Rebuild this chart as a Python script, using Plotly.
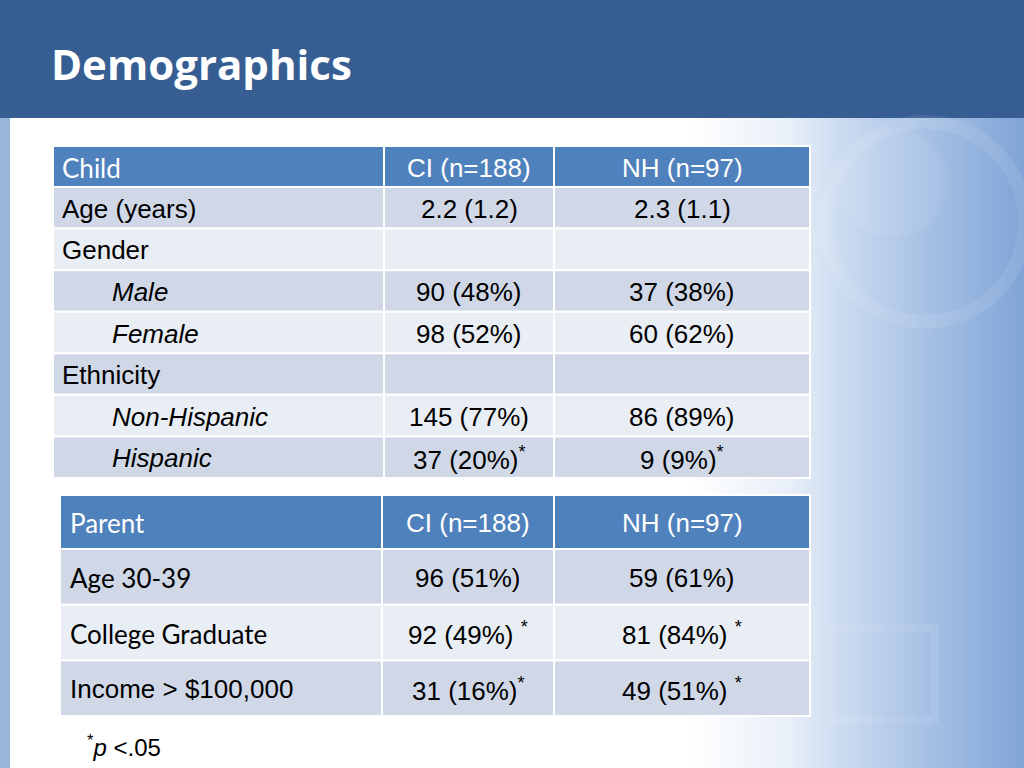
import plotly.graph_objects as go

W, H = 1024, 768

title_text = "Demographics"

child_header = ["Child", "CI (n=188)", "NH (n=97)"]
child_labels = ["Age (years)", "Gender", "Male", "Female", "Ethnicity", "Non-Hispanic", "Hispanic"]
child_italic = [False, False, True, True, False, True, True]
child_ci = ["2.2 (1.2)", "", "90 (48%)", "98 (52%)", "", "145 (77%)", "37 (20%)<sup>*</sup>"]
child_nh = ["2.3 (1.1)", "", "37 (38%)", "60 (62%)", "", "86 (89%)", "9 (9%)<sup>*</sup>"]

parent_header = ["Parent", "CI (n=188)", "NH (n=97)"]
parent_labels = ["Age 30-39", "College Graduate", "Income > $100,000"]
parent_ci = ["96 (51%)", "92 (49%) <sup>*</sup>", "31 (16%)<sup>*</sup>"]
parent_nh = ["59 (61%)", "81 (84%) <sup>*</sup>", "49 (51%) <sup>*</sup>"]

footnote = "<sup>*</sup><i>p</i> &lt;.05"

HEADER_BG = "#375E93"
TH_BLUE = "#4F81BD"
ROW_DARK = "#D0D8E8"
ROW_LIGHT = "#E9EDF4"
CAL = "Lato"
ARIAL = "Liberation Sans"

fig = go.Figure()

# background gradient on the right side of the slide
fig.add_trace(go.Scatter(
    x=[690, 1024, 1024, 690, 690], y=[118, 118, 768, 768, 118],
    mode="lines", line=dict(width=0), fill="toself",
    fillgradient=dict(type="horizontal",
                      colorscale=[[0, "rgba(255,255,255,1)"], [0.3, "rgba(232,239,248,1)"],
                                  [0.45, "rgba(204,219,240,1)"], [0.7, "rgba(168,194,229,1)"],
                                  [1, "rgba(128,164,214,1)"]]),
    hoverinfo="skip", showlegend=False))

shapes = [
    dict(type="rect", xref="x", yref="y", x0=0, x1=W, y0=0, y1=118,
         fillcolor=HEADER_BG, line=dict(width=0), layer="above"),
    dict(type="rect", xref="x", yref="y", x0=0, x1=10, y0=118, y1=H,
         fillcolor="#9AB6D9", line=dict(width=0), layer="above"),
    dict(type="circle", xref="x", yref="y", x0=825, x1=1025, y0=122, y1=322,
         fillcolor="rgba(0,0,0,0)", line=dict(color="rgba(255,255,255,0.09)", width=14), layer="above"),
    dict(type="circle", xref="x", yref="y", x0=838, x1=948, y0=128, y1=238,
         fillcolor="rgba(255,255,255,0.06)", line=dict(width=0), layer="above"),
    dict(type="rect", xref="x", yref="y", x0=830, x1=935, y0=628, y1=720,
         fillcolor="rgba(0,0,0,0)", line=dict(color="rgba(255,255,255,0.08)", width=8), layer="above"),
]
annotations = []


def draw_table(col_edges, row_edges, header, labels, label_fonts, italic, ci, nh, label_x):
    rows = [(header, True)] + [([l, a, b], False) for l, a, b in zip(labels, ci, nh)]
    for r, (vals, is_head) in enumerate(rows):
        y0, y1 = row_edges[r], row_edges[r + 1]
        if is_head:
            fill = TH_BLUE
        else:
            fill = ROW_DARK if (r - 1) % 2 == 0 else ROW_LIGHT
        for c in range(3):
            shapes.append(dict(type="rect", xref="x", yref="y",
                               x0=col_edges[c], x1=col_edges[c + 1], y0=y0, y1=y1,
                               fillcolor=fill, line=dict(color="white", width=2), layer="above"))
        yc = (y0 + y1) / 2 + 1
        color = "white" if is_head else "black"
        for c in range(3):
            txt = vals[c]
            if not txt:
                continue
            if c == 0:
                if is_head:
                    fam, x = CAL, label_x
                else:
                    fam = label_fonts[r - 1]
                    it = italic[r - 1]
                    x = 110 if it else label_x
                    if it:
                        txt = "<i>" + txt + "</i>"
                anchor = "left"
            else:
                fam, x, anchor = ARIAL, (col_edges[c] + col_edges[c + 1]) / 2, "center"
            annotations.append(dict(text=txt, x=x, y=yc, xref="x", yref="y",
                                    xanchor=anchor, yanchor="middle", showarrow=False,
                                    font=dict(family=fam, size=26, color=color)))


t1_cols = [53, 384, 554, 810]
t1_rows = [146] + [187 + i * 41.57 for i in range(len(child_labels) + 1)]
draw_table(t1_cols, t1_rows, child_header, child_labels,
           [ARIAL] * 7, child_italic, child_ci, child_nh, 60)

t2_cols = [60, 382, 554, 810]
t2_rows = [495] + [549 + i * 55.7 for i in range(len(parent_labels) + 1)]
draw_table(t2_cols, t2_rows, parent_header, parent_labels,
           [CAL, CAL, ARIAL], [False] * 3, parent_ci, parent_nh, 68)

annotations.append(dict(text="<b>" + title_text + "</b>", x=49, y=63, xref="x", yref="y",
                        xanchor="left", yanchor="middle", showarrow=False,
                        font=dict(family="Open Sans", size=42, color="white")))
annotations.append(dict(text=footnote, x=85, y=746, xref="x", yref="y",
                        xanchor="left", yanchor="middle", showarrow=False,
                        font=dict(family=ARIAL, size=24, color="black")))

fig.update_layout(
    width=W, height=H, margin=dict(l=0, r=0, t=0, b=0),
    paper_bgcolor="white", plot_bgcolor="white",
    xaxis=dict(range=[0, W], visible=False, fixedrange=True),
    yaxis=dict(range=[H, 0], visible=False, fixedrange=True),
    shapes=shapes, annotations=annotations, showlegend=False,
)

fig.write_html("out.html", config={"displayModeBar": False},
               post_script="document.body.style.margin='0px';document.body.style.overflow='hidden';")
